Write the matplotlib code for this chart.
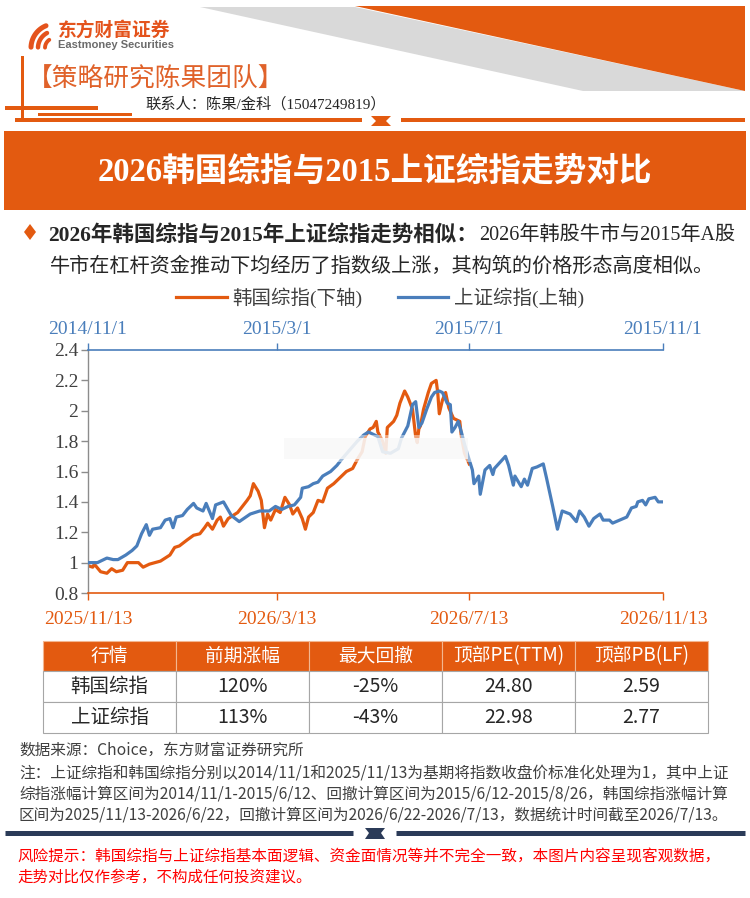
import matplotlib
matplotlib.use('Agg')
import matplotlib.pyplot as plt
import numpy as np
import pandas as pd
from matplotlib.patches import Polygon, Rectangle

SERIF = ['Liberation Serif', 'Noto Sans CJK SC']
CJK = ['Noto Sans CJK SC', 'DejaVu Sans']
plt.rcParams['font.family'] = SERIF

ORANGE = '#e35a10'
BLUE = '#4a7ebb'
NAVY = '#2b3b58'
GREY = '#d9d9d9'

# ---- data ----
kr_dates = ['2025-11-13', '2025-11-16', '2025-11-17', '2025-11-21', '2025-11-25', '2025-11-28',
            '2025-12-01', '2025-12-05', '2025-12-08', '2025-12-12', '2025-12-15', '2025-12-18',
            '2025-12-22', '2025-12-29', '2026-01-04', '2026-01-07', '2026-01-10', '2026-01-15',
            '2026-01-19', '2026-01-23', '2026-01-26', '2026-01-28', '2026-01-31', '2026-02-03',
            '2026-02-05', '2026-02-07', '2026-02-10', '2026-02-16', '2026-02-19', '2026-02-22',
            '2026-02-24', '2026-02-26', '2026-03-01', '2026-03-03', '2026-03-05', '2026-03-07',
            '2026-03-09', '2026-03-12', '2026-03-15', '2026-03-18', '2026-03-21', '2026-03-23',
            '2026-03-26', '2026-03-29', '2026-03-31', '2026-04-02', '2026-04-05', '2026-04-08',
            '2026-04-11', '2026-04-14', '2026-04-18', '2026-04-22', '2026-04-26', '2026-04-30',
            '2026-05-03', '2026-05-06', '2026-05-08', '2026-05-11', '2026-05-13', '2026-05-15',
            '2026-05-16', '2026-05-19', '2026-05-21', '2026-05-22', '2026-05-26', '2026-05-28',
            '2026-05-30', '2026-06-02', '2026-06-04', '2026-06-07', '2026-06-09', '2026-06-10',
            '2026-06-11', '2026-06-12', '2026-06-14', '2026-06-17', '2026-06-19', '2026-06-22',
            '2026-06-23', '2026-06-24', '2026-06-26', '2026-06-28', '2026-06-30', '2026-07-03',
            '2026-07-05', '2026-07-07', '2026-07-08', '2026-07-10', '2026-07-13']
kr_values = [0.98, 0.97, 0.99, 0.94, 0.93, 0.96,
             0.94, 0.95, 1.00, 1.00, 1.00, 0.97,
             0.99, 1.01, 1.05, 1.10, 1.11, 1.15,
             1.18, 1.19, 1.23, 1.26, 1.22, 1.28,
             1.30, 1.24, 1.29, 1.33, 1.37, 1.41,
             1.44, 1.52, 1.47, 1.41, 1.23, 1.32,
             1.28, 1.35, 1.33, 1.43, 1.38, 1.32,
             1.36, 1.29, 1.22, 1.30, 1.33, 1.41,
             1.40, 1.49, 1.52, 1.56, 1.60, 1.62,
             1.68, 1.73, 1.83, 1.88, 1.89, 1.93,
             1.86, 1.80, 1.72, 1.89, 1.93, 1.97,
             2.05, 2.13, 2.09, 2.01, 1.83, 1.79,
             1.88, 1.90, 2.01, 2.12, 2.18, 2.20,
             2.12, 1.98, 2.07, 2.12, 2.02, 1.95,
             1.94, 1.93, 1.83, 1.72, 1.65]

sh_dates = ['2014-11-01', '2014-11-07', '2014-11-13', '2014-11-17', '2014-11-20', '2014-11-25',
            '2014-11-29', '2014-12-02', '2014-12-05', '2014-12-08', '2014-12-10', '2014-12-12',
            '2014-12-17', '2014-12-20', '2014-12-23', '2014-12-25', '2014-12-27', '2014-12-31',
            '2015-01-03', '2015-01-07', '2015-01-09', '2015-01-13', '2015-01-15', '2015-01-19',
            '2015-01-21', '2015-01-26', '2015-01-31', '2015-02-05', '2015-02-12', '2015-02-18',
            '2015-02-24', '2015-02-28', '2015-03-04', '2015-03-08', '2015-03-12', '2015-03-16',
            '2015-03-17', '2015-03-21', '2015-03-24', '2015-03-27', '2015-03-30', '2015-04-04',
            '2015-04-08', '2015-04-11', '2015-04-16', '2015-04-21', '2015-04-25', '2015-04-28',
            '2015-05-02', '2015-05-04', '2015-05-07', '2015-05-12', '2015-05-17', '2015-05-19',
            '2015-05-23', '2015-05-26', '2015-05-28', '2015-05-30', '2015-06-01', '2015-06-04',
            '2015-06-07', '2015-06-09', '2015-06-12', '2015-06-14', '2015-06-17', '2015-06-19',
            '2015-06-20', '2015-06-22', '2015-06-24', '2015-06-26', '2015-06-28', '2015-06-30',
            '2015-07-03', '2015-07-04', '2015-07-07', '2015-07-08', '2015-07-11', '2015-07-14',
            '2015-07-16', '2015-07-17', '2015-07-24', '2015-07-26', '2015-07-29', '2015-07-30',
            '2015-08-03', '2015-08-05', '2015-08-07', '2015-08-10', '2015-08-13', '2015-08-17',
            '2015-08-19', '2015-08-23', '2015-08-26', '2015-08-29', '2015-09-03', '2015-09-07',
            '2015-09-09', '2015-09-12', '2015-09-15', '2015-09-18', '2015-09-22', '2015-09-24',
            '2015-09-28', '2015-09-30', '2015-10-09', '2015-10-12', '2015-10-15', '2015-10-16',
            '2015-10-19', '2015-10-21', '2015-10-23', '2015-10-27', '2015-10-29', '2015-10-31']
sh_values = [1.00, 1.00, 1.03, 1.02, 1.02, 1.05,
             1.08, 1.11, 1.19, 1.25, 1.18, 1.22,
             1.23, 1.28, 1.29, 1.23, 1.30, 1.31,
             1.35, 1.39, 1.36, 1.34, 1.39, 1.29,
             1.38, 1.40, 1.31, 1.27, 1.32, 1.34,
             1.34, 1.37, 1.35, 1.37, 1.38, 1.43,
             1.49, 1.50, 1.52, 1.53, 1.57, 1.60,
             1.64, 1.68, 1.74, 1.80, 1.84, 1.86,
             1.84, 1.83, 1.73, 1.72, 1.75, 1.82,
             1.90, 2.04, 2.06, 1.89, 1.92, 2.01,
             2.09, 2.12, 2.13, 2.12, 2.05, 2.04,
             1.86, 1.89, 1.93, 1.86, 1.78, 1.71,
             1.61, 1.52, 1.57, 1.45, 1.61, 1.64,
             1.58, 1.62, 1.70, 1.64, 1.51, 1.57,
             1.50, 1.55, 1.51, 1.62, 1.63, 1.65,
             1.56, 1.37, 1.22, 1.34, 1.32, 1.27,
             1.34, 1.30, 1.24, 1.29, 1.32, 1.28,
             1.28, 1.26, 1.30, 1.36, 1.37, 1.40,
             1.41, 1.38, 1.42, 1.43, 1.40, 1.40]

kr_ticks = ['2025/11/13', '2026/3/13', '2026/7/13', '2026/11/13']
sh_ticks = ['2014/11/1', '2015/3/1', '2015/7/1', '2015/11/1']
y_ticks = [0.8, 1.0, 1.2, 1.4, 1.6, 1.8, 2.0, 2.2, 2.4]
legend_labels = ['韩国综指(下轴)', '上证综指(上轴)']

table_cols = ['行情', '前期涨幅', '最大回撤', '顶部PE(TTM)', '顶部PB(LF)']
table_rows = [['韩国综指', '120%', '-25%', '24.80', '2.59'],
              ['上证综指', '113%', '-43%', '22.98', '2.77']]

title = '2026韩国综指与2015上证综指走势对比'
point_bold = '2026年韩国综指与2015年上证综指走势相似：'
point_rest = '2026年韩股牛市与2015年A股'
point_line2 = '牛市在杠杆资金推动下均经历了指数级上涨，其构筑的价格形态高度相似。'
source = '数据来源：Choice，东方财富证券研究所'
notes = ['注：上证综指和韩国综指分别以2014/11/1和2025/11/13为基期将指数收盘价标准化处理为1，其中上证',
         '综指涨幅计算区间为2014/11/1-2015/6/12、回撤计算区间为2015/6/12-2015/8/26，韩国综指涨幅计算',
         '区间为2025/11/13-2026/6/22，回撤计算区间为2026/6/22-2026/7/13，数据统计时间截至2026/7/13。']
risk = ['风险提示：韩国综指与上证综指基本面逻辑、资金面情况等并不完全一致，本图片内容呈现客观数据，',
        '走势对比仅作参考，不构成任何投资建议。']

# ---- page ----
fig = plt.figure(figsize=(7.5, 8.98), dpi=100)
bg = fig.add_axes([0, 0, 1, 1])
bg.set_xlim(0, 750)
bg.set_ylim(898, 0)
bg.axis('off')
rend = fig.canvas.get_renderer()


def fit_text(x, y, s, width, **kw):
    # shrink/grow font so the line spans the given pixel width
    t = bg.text(x, y, s, fontsize=10, va='center', **kw)
    w = t.get_window_extent(rend).width
    t.set_fontsize(10 * width / w)
    return t


# header shapes
bg.add_patch(Polygon([(200, 7), (355, 7), (745, 91), (583, 91)], closed=True, color=GREY, lw=0))
bg.add_patch(Polygon([(355, 6), (745, 6), (745, 91)], closed=True, color=ORANGE, lw=0))
bg.add_patch(Rectangle((20.5, 56), 3.5, 62, color=ORANGE, lw=0))
bg.add_patch(Rectangle((5, 106), 93, 3.5, color=ORANGE, lw=0))
bg.add_patch(Rectangle((38, 113), 94, 3, color=ORANGE, lw=0))
bg.add_patch(Rectangle((15, 118), 347, 4, color=ORANGE, lw=0))
bg.add_patch(Rectangle((401, 118), 344, 4, color=ORANGE, lw=0))
bg.add_patch(Polygon([(371, 116), (391, 116), (386, 121), (391, 126), (371, 126), (376, 121)],
                     closed=True, color=ORANGE, lw=0))

# logo swooshes
for r, w, a0 in [(24, 3.6, 112), (17, 3.2, 118), (10, 2.8, 125)]:
    th = np.radians(np.linspace(a0, 178, 30))
    bg.plot(55 + r * np.cos(th), 48 - r * np.sin(th), color='#e4531c', lw=w,
            solid_capstyle='round')
bg.text(58, 30, '东方财富证券', fontsize=13.5, weight='bold', color='#e4531c',
        family=CJK, va='center')
bg.text(58, 45.5, 'Eastmoney Securities', fontsize=8, weight='bold', color='#6b6b6b',
        family='Liberation Sans', va='center')
bg.text(27, 80, '【策略研究陈果团队】', fontsize=18.5, color='#e0622a', family=CJK, va='center')
bg.text(145, 104, '联系人：陈果/金科（15047249819）', fontsize=11, color='#262626', va='center')

# title banner
bg.add_patch(Rectangle((4, 131), 742, 79, color=ORANGE, lw=0))
bg.text(375, 172, title, fontsize=23.5, weight='bold', color='white', ha='center', va='center')

# bullet paragraph
bg.add_patch(Polygon([(30, 224), (36, 232), (30, 240), (24, 232)], closed=True, color=ORANGE, lw=0))
t1 = bg.text(48, 235, point_bold, fontsize=15.5, weight='bold', color='#262626', va='center')
x_end = t1.get_window_extent(rend).x1
bg.text(x_end + 1, 235, point_rest, fontsize=14.5, color='#262626', va='center')
bg.text(50, 267, point_line2, fontsize=14.5, color='#262626', va='center')

# ---- chart ----
ax = fig.add_axes([88 / 750, 1 - 593 / 898, 575 / 750, 243 / 898])
kr_tick_pos = pd.to_datetime(kr_ticks, format='%Y/%m/%d')
sh_tick_pos = pd.to_datetime(sh_ticks, format='%Y/%m/%d')

kr_line, = ax.plot(pd.to_datetime(kr_dates), kr_values, color=ORANGE, lw=2.3)
ax.set_xlim(kr_tick_pos[0], kr_tick_pos[-1])
ax.set_xticks(kr_tick_pos)
ax.set_xticklabels(kr_ticks)
ax.set_ylim(0.8, 2.4)
ax.set_yticks(y_ticks)
ax.set_yticklabels([f'{v:g}' for v in y_ticks])
ax.spines['right'].set_visible(False)
ax.spines['top'].set_visible(False)
ax.spines['bottom'].set_color(ORANGE)
ax.spines['bottom'].set_linewidth(1.2)
ax.spines['left'].set_color('#8c8c8c')
ax.spines['left'].set_linewidth(1.0)
ax.tick_params(axis='x', colors=ORANGE, length=5, width=1, labelsize=14, pad=8)
ax.tick_params(axis='y', colors='#8c8c8c', labelcolor='#404040', length=5, width=1,
               labelsize=14, pad=2)

ax2 = ax.twiny()
sh_line, = ax2.plot(pd.to_datetime(sh_dates), sh_values, color=BLUE, lw=2.3)
ax2.set_xlim(sh_tick_pos[0], sh_tick_pos[-1])
ax2.set_xticks(sh_tick_pos)
ax2.set_xticklabels(sh_ticks)
for side in ['left', 'right', 'bottom']:
    ax2.spines[side].set_visible(False)
ax2.spines['top'].set_color(BLUE)
ax2.spines['top'].set_linewidth(1.2)
ax2.tick_params(axis='x', colors=BLUE, length=5, width=1, labelsize=14, pad=4)

# faded watermark band over the middle of the lines
ax2.add_patch(Rectangle((0.33, 0.54), 0.34, 0.11, transform=ax2.transAxes,
                        facecolor='white', alpha=0.45, lw=0, zorder=5))
ax2.add_patch(Rectangle((0.34, 0.552), 0.32, 0.085, transform=ax2.transAxes,
                        facecolor='#f8f8f8', alpha=0.8, lw=0, zorder=6))

fig.legend(handles=[kr_line, sh_line], labels=legend_labels, loc='center',
           bbox_to_anchor=(380 / 750, 1 - 298 / 898), ncol=2, frameon=False, fontsize=14,
           handlelength=2.6, handletextpad=0.3, columnspacing=1.8, labelcolor='#404040')

# ---- table ----
col_x = np.linspace(43, 708, len(table_cols) + 1)
row_y = [641, 671, 702, 733]
for i, name in enumerate(table_cols):
    bg.add_patch(Rectangle((col_x[i], row_y[0]), col_x[i + 1] - col_x[i], row_y[1] - row_y[0],
                           facecolor=ORANGE, edgecolor='#f3b690', lw=0.8))
    bg.text((col_x[i] + col_x[i + 1]) / 2, (row_y[0] + row_y[1]) / 2, name, fontsize=13.5,
            color='white', family=CJK, ha='center', va='center')
for r, row in enumerate(table_rows):
    for i, val in enumerate(row):
        bg.add_patch(Rectangle((col_x[i], row_y[r + 1]), col_x[i + 1] - col_x[i],
                               row_y[r + 2] - row_y[r + 1], facecolor='white',
                               edgecolor='#a6a6a6', lw=0.8))
        bg.text((col_x[i] + col_x[i + 1]) / 2, (row_y[r + 1] + row_y[r + 2]) / 2, val,
                fontsize=14, color='#262626', family=CJK, ha='center', va='center')

# ---- notes ----
fit_text(19, 750, source, 285, color='#404040', family=CJK)
for k, line in enumerate(notes):
    fit_text(19, 773 + k * 21, line, 712, color='#404040', family=CJK)

bg.plot([5, 353], [833, 833], color=NAVY, lw=3.6, solid_capstyle='butt')
bg.plot([396, 745], [833, 833], color=NAVY, lw=3.6, solid_capstyle='butt')
bg.add_patch(Polygon([(365, 828), (385, 828), (381, 833), (385, 839), (365, 839), (369, 833)],
                     closed=True, color=NAVY, lw=0))

fit_text(17, 857, risk[0], 701, color='#ff0000', family=CJK)
fit_text(17, 877, risk[1], 294, color='#ff0000', family=CJK)

fig.savefig('out.png', dpi=100, facecolor='white')
